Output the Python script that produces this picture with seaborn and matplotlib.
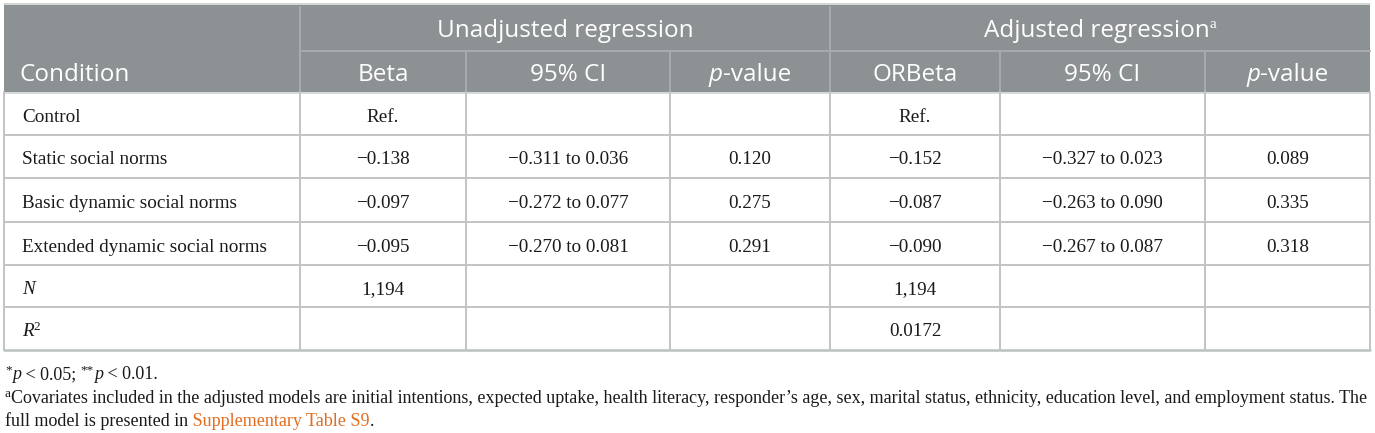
import numpy as np
import pandas as pd
import seaborn as sns
import matplotlib.pyplot as plt
from matplotlib.patches import Rectangle

# table values
conditions = ["Control", "Static social norms", "Basic dynamic social norms",
              "Extended dynamic social norms"]
beta_unadj = ["Ref.", "\u22120.138", "\u22120.097", "\u22120.095"]
ci_unadj = ["", "\u22120.311 to 0.036", "\u22120.272 to 0.077", "\u22120.270 to 0.081"]
p_unadj = ["", "0.120", "0.275", "0.291"]
beta_adj = ["Ref.", "\u22120.152", "\u22120.087", "\u22120.090"]
ci_adj = ["", "\u22120.327 to 0.023", "\u22120.263 to 0.090", "\u22120.267 to 0.087"]
p_adj = ["", "0.089", "0.335", "0.318"]
n_row = ["1,194", "", "", "1,194", "", ""]
r2_row = ["", "", "", "0.0172", "", ""]

group_labels = ["Unadjusted regression", "Adjusted regression"]
col_labels = ["Beta", "95% CI", "p-value", "ORBeta", "95% CI", "p-value"]

df = pd.DataFrame({"cond": conditions, "b1": beta_unadj, "ci1": ci_unadj, "p1": p_unadj,
                   "b2": beta_adj, "ci2": ci_adj, "p2": p_adj})
value_cols = ["b1", "ci1", "p1", "b2", "ci2", "p2"]

sns.set_style("white")
plt.rcParams["font.family"] = ["Liberation Serif", "DejaVu Serif"]

# layout in pixels
col_x = [4, 300, 466, 670, 830, 1000, 1205, 1370]
row_y = [92, 135, 178, 222, 265, 307, 350]
head_top, head_mid = 5, 51
HEAD_BG = "#8c9193"
LINE = "#c2c4c4"
HEAD_LINE = "#a7abad"
SANS = "Open Sans"
head_size = 17.5
body_size = 13.8

fig = plt.figure(figsize=(13.75, 4.33), dpi=100)
ax = fig.add_axes([0, 0, 1, 1])
ax.set_xlim(0, 1375)
ax.set_ylim(433, 0)
ax.axis("off")
renderer = fig.canvas.get_renderer()


def width_of(s, **kw):
    t = ax.text(0, 0, s, **kw)
    w = t.get_window_extent(renderer).width
    t.remove()
    return w


def rich(x, y, parts, ha="center"):
    # parts: list of (text, kwargs, dy)
    widths = [width_of(s, **kw) for s, kw, dy in parts]
    start = x - sum(widths) / 2 if ha == "center" else x
    for (s, kw, dy), w in zip(parts, widths):
        ax.text(start, y + dy, s, ha="left", va="baseline", **kw)
        start += w


# header background
ax.add_patch(Rectangle((col_x[0], head_top), col_x[-1] - col_x[0], row_y[0] - head_top,
                       facecolor=HEAD_BG, edgecolor="none"))
ax.plot([col_x[0], col_x[-1]], [head_top - 1, head_top - 1], color="#c9d0cb", lw=1.2)
ax.plot([col_x[1], col_x[-1]], [head_mid, head_mid], color=HEAD_LINE, lw=1.4)
for i, x in enumerate(col_x[1:-1], start=1):
    y0 = head_top + 2 if i in (1, 4) else head_mid
    ax.plot([x, x], [y0, row_y[0]], color=HEAD_LINE, lw=1.4)

# body grid
for y in row_y[1:-1]:
    ax.plot([col_x[0], col_x[-1]], [y, y], color=LINE, lw=1.4)
ax.plot([col_x[0], col_x[-1]], [row_y[-1], row_y[-1]], color="#b9c3bc", lw=1.8)
ax.plot([col_x[0], col_x[-1]], [row_y[0] + 1, row_y[0] + 1], color="#d0d3d3", lw=1.2)
for x in col_x:
    ax.plot([x, x], [row_y[0], row_y[-1]], color=LINE, lw=1.4)

# header text
hkw = dict(family=SANS, color="white", fontsize=head_size)
y1 = 37
ax.text(565, y1, group_labels[0], ha="center", va="baseline", **hkw)
rich(1100, y1, [(group_labels[1], hkw, 0),
                ("a", dict(family="Liberation Serif", color="white", fontsize=11), -9)])
y2 = 81
ax.text(20, y2, "Condition", ha="left", va="baseline", **hkw)
for j, lab in enumerate(col_labels):
    cx = (col_x[j + 1] + col_x[j + 2]) / 2
    if lab.startswith("p-"):
        rich(cx, y2, [("p", dict(hkw, style="italic"), 0), ("-value", hkw, 0)])
    else:
        ax.text(cx, y2, lab, ha="center", va="baseline", **hkw)

# body text
bkw = dict(color="#1a1a1a", fontsize=body_size)
for i, row in df.iterrows():
    yb = (row_y[i] + row_y[i + 1]) / 2 + 8
    ax.text(22, yb, row["cond"], ha="left", va="baseline", **bkw)
    for j, c in enumerate(value_cols):
        cx = (col_x[j + 1] + col_x[j + 2]) / 2
        ax.text(cx, yb, row[c], ha="center", va="baseline", **bkw)

stat_rows = [("N", n_row), ("R2", r2_row)]
for k, (lab, vals) in enumerate(stat_rows):
    i = len(df) + k
    yb = (row_y[i] + row_y[i + 1]) / 2 + 8
    if lab == "N":
        ax.text(22, yb, "N", ha="left", va="baseline", style="italic", **bkw)
    else:
        rich(22, yb, [("R", dict(bkw, style="italic"), 0), ("2", dict(bkw, fontsize=9.5), -7)], ha="left")
    for j, v in enumerate(vals):
        cx = (col_x[j + 1] + col_x[j + 2]) / 2
        ax.text(cx, yb, v, ha="center", va="baseline", **bkw)

# footnotes
fkw = dict(color="#1a1a1a", fontsize=12.95)
sup = dict(color="#1a1a1a", fontsize=9.5)
ita = dict(fkw, style="italic")
rich(5, 379, [("*", sup, -6), ("p", ita, 0), (" < 0.05; ", fkw, 0), ("**", sup, -6),
              ("p", ita, 0), (" < 0.01.", fkw, 0)], ha="left")
rich(5, 403, [("a", sup, -6),
              ("Covariates included in the adjusted models are initial intentions, expected uptake, "
               "health literacy, responder\u2019s age, sex, marital status, ethnicity, education level, "
               "and employment status. The", fkw, 0)], ha="left")
rich(5, 426, [("full model is presented in", fkw, 0),
              (" Supplementary Table S9", dict(fkw, color="#e36c1f"), 0),
              (".", fkw, 0)], ha="left")

fig.savefig("out.png", dpi=100, facecolor="white")
